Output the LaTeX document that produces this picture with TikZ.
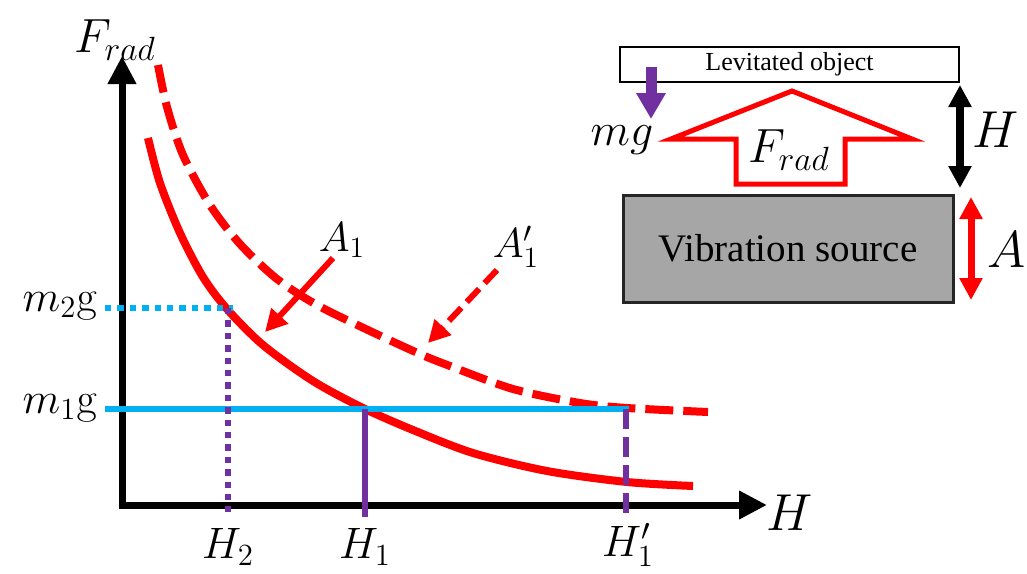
\RequirePackage{fix-cm}
\documentclass[tikz,border=0pt]{standalone}
\usepackage[no-math]{fontspec}
\setmainfont{Liberation Serif}
\usetikzlibrary{arrows.meta}
\definecolor{lineblue}{HTML}{00B0F0}
\definecolor{linepurple}{HTML}{7030A0}
\definecolor{srcgray}{HTML}{A6A6A6}
\newcommand{\Frad}{F_{rad}}

\begin{document}
\begin{tikzpicture}[
  x=0.5pt, y=-0.5pt,
  axis/.style={line width=3.5pt, line cap=rect, -{Triangle[length=14pt,width=13.5pt]}},
  curve/.style={red, line width=4pt},
  guide/.style={line width=3.2pt},
  ptr/.style={red, line width=3pt, -{Triangle[length=11pt,width=11pt]}},
  lab/.style={inner sep=0pt, font=\fontsize{22}{22}\selectfont},
  biglab/.style={inner sep=0pt, font=\fontsize{26}{26}\selectfont},
  dbl/.style={{Triangle[length=11pt,width=11pt]}-{Triangle[length=11pt,width=11pt]}},
  txtbox/.style={draw, inner sep=0pt, align=center}
]
\useasboundingbox (0,0) rectangle (1027,573);
% plot
\coordinate (O)    at (122,505);
\coordinate (ytop) at (122,56);
\coordinate (xend) at (767,505);
\draw[axis] (O) -- (ytop);
\draw[axis] (O) -- (xend);
\node[lab, font=\fontsize{24}{24}\selectfont] (ylab) at (115,40) {$\Frad$};
\node[biglab] (xlab) at (790,513) {$H$};

\draw[curve] plot[smooth] coordinates {(148,138) (160,183) (180,233) (203,277) (227,309)
  (263,345) (313,381) (363,408) (413,430) (473,453) (547,471) (627,482) (693,486)};
\draw[curve, dash pattern=on 14pt off 5pt] plot[smooth] coordinates {(158,65) (167,107)
  (183,155) (210,205) (240,244) (277,279) (317,305) (370,331) (420,354) (450,366)
  (513,389) (580,403) (627,408) (708,412)};

\coordinate (m2l) at (105,308);
\coordinate (m2r) at (233,308);
\coordinate (m1l) at (105,409);
\coordinate (m1r) at (629,409);
\coordinate (h2t) at (228,308);
\coordinate (h2b) at (228,512);
\coordinate (h1t) at (365,409);
\coordinate (h1b) at (365,517);
\coordinate (h1pt) at (626,409);
\coordinate (h1pb) at (626,517);
\draw[guide, lineblue, dash pattern=on 3.2pt off 3pt] (m2l) -- (m2r);
\draw[guide, lineblue] (m1l) -- (m1r);
\draw[guide, linepurple, dash pattern=on 3.2pt off 3pt] (h2t) -- (h2b);
\draw[guide, linepurple] (h1t) -- (h1b);
\draw[guide, linepurple, dash pattern=on 10pt off 4pt] (h1pt) -- (h1pb);

\node[lab] (m2lab) at (60,306) {$m_2\mathrm{g}$};
\node[lab] (m1lab) at (60,408) {$m_1\mathrm{g}$};
\node[lab] (h2lab) at (228,547) {$H_2$};
\node[lab] (h1lab) at (365,547) {$H_1$};
\node[lab] (h1plab) at (628,545) {$H_1'$};

\node[lab, font=\fontsize{21}{21}\selectfont] (a1lab) at (342,240) {$A_1$};
\node[lab, font=\fontsize{21}{21}\selectfont] (a1plab) at (516,247) {$A_1'$};
\coordinate (a1s) at (333,258);
\coordinate (a1e) at (265,332);
\coordinate (a1ps) at (497,270);
\coordinate (a1pe) at (428,343);
\draw[ptr] (a1s) -- (a1e);
\draw[ptr, dash pattern=on 9pt off 4pt] (a1ps) -- (a1pe);

% levitation sketch
\node[txtbox, line width=0.8pt, minimum width=169.5pt, minimum height=17.5pt,
      font=\fontsize{13}{13}\selectfont] (obj) at (789.5,64.5) {Levitated object};
\node[txtbox, draw=black!85, fill=srcgray, line width=1.5pt, minimum width=165pt,
      minimum height=53.5pt, font=\fontsize{19.5}{19.5}\selectfont] (src) at (788,248.5)
  {Vibration source};

\coordinate (mgs) at (651,67);
\coordinate (mge) at (651,119);
\draw[linepurple, line width=5.5pt, -{Triangle[length=13pt,width=14pt]}] (mgs) -- (mge);
\node[lab, font=\fontsize{23}{23}\selectfont] (mglab) at (622,140) {$mg$};

\draw[red, line width=2.5pt, line join=miter] (792,91) -- (912,139) -- (845,139)
  -- (845,184) -- (736,184) -- (736,139) -- (671,139) -- cycle;
\node[lab, font=\fontsize{24}{24}\selectfont] (fradlab) at (789,150) {$\Frad$};

\coordinate (hs) at (960,85);
\coordinate (he) at (960,188);
\draw[dbl, line width=4pt] (hs) -- (he);
\node[biglab] (hlab) at (996,130) {$H$};

\coordinate (as) at (971,197);
\coordinate (ae) at (971,300);
\draw[dbl, red, line width=3.5pt] (as) -- (ae);
\node[biglab] (alab) at (1007,250) {$A$};
\end{tikzpicture}
\end{document}
